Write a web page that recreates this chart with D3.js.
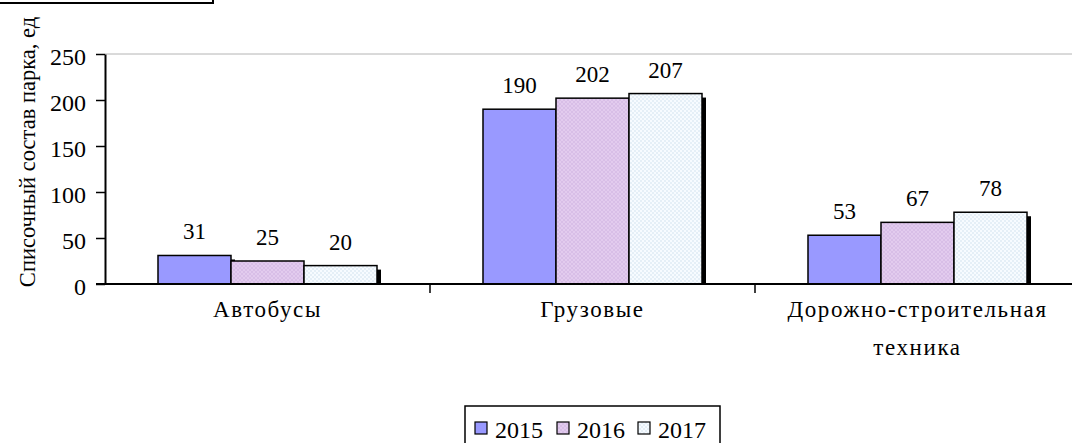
<!DOCTYPE html>
<html>
<head>
<meta charset="utf-8">
<script src="https://cdn.jsdelivr.net/npm/d3@7"></script>
</head>
<body style="margin:0; background:#fff">
<div id="main"></div>
<script>
let categories = ["Автобусы", "Грузовые", "Дорожно-строительная техника"];
let years = ["2015", "2016", "2017"];
let values2015 = [31, 190, 53];
let values2016 = [25, 202, 67];
let values2017 = [20, 207, 78];
let yTicks = [0, 50, 100, 150, 200, 250];

let series = [values2015, values2016, values2017];
let fills = ["#9999ff", "url(#p2016)", "url(#p2017)"];
let serif = '"Liberation Serif"';

let width = 1072, height = 443;
let plotLeft = 105, plotRight = 1080, plotTop = 54, plotBottom = 284;

let svg = d3.select("#main")
    .append("svg")
    .attr("width", width)
    .attr("height", height)
    .style("font-family", serif);

// patterns for 2016 and 2017
let defs = svg.append("defs");
let p1 = defs.append("pattern").attr("id", "p2016")
    .attr("patternUnits", "userSpaceOnUse").attr("width", 4).attr("height", 4);
p1.append("rect").attr("width", 4).attr("height", 4).attr("fill", "#e2cbee");
p1.append("path").attr("d", "M0,0L4,4M4,0L0,4").attr("stroke", "#d2b5e2").attr("stroke-width", 0.6);
let p2 = defs.append("pattern").attr("id", "p2017")
    .attr("patternUnits", "userSpaceOnUse").attr("width", 4).attr("height", 4);
p2.append("rect").attr("width", 4).attr("height", 4).attr("fill", "#f7fbff");
p2.append("circle").attr("cx", 1).attr("cy", 1).attr("r", 0.7).attr("fill", "#c6dcea");
p2.append("circle").attr("cx", 3).attr("cy", 3).attr("r", 0.7).attr("fill", "#c6dcea");

// cut title box top-left
svg.append("rect").attr("x", -5).attr("y", -20).attr("width", 218).attr("height", 23)
    .attr("fill", "none").attr("stroke", "#000").attr("stroke-width", 2);

let x0 = d3.scaleBand().domain(categories).range([plotLeft, plotRight]).paddingInner(0).paddingOuter(0);
let x1 = d3.scaleBand().domain(years).range([0, x0.bandwidth()]).paddingInner(0).paddingOuter(0.726);
let y = d3.scaleLinear().domain([0, 250]).range([plotBottom, plotTop]);

// gridline at top
svg.append("line").attr("x1", plotLeft).attr("x2", width).attr("y1", y(250)).attr("y2", y(250))
    .attr("stroke", "#b4b4b4").attr("stroke-width", 1);

let g = svg.append("g");
let rows = [];
categories.forEach((c, i) => {
  years.forEach((yr, j) => rows.push({c: c, yr: yr, v: series[j][i], j: j}));
});

// shadows
g.selectAll("rect.sh").data(rows).enter().append("rect")
    .attr("class", "sh")
    .attr("x", d => x0(d.c) + x1(d.yr) + 4)
    .attr("y", d => y(d.v) + 4)
    .attr("width", x1.bandwidth())
    .attr("height", d => plotBottom - y(d.v) - 4)
    .attr("fill", "#000");

g.selectAll("rect.bar").data(rows).enter().append("rect")
    .attr("class", "bar")
    .attr("x", d => x0(d.c) + x1(d.yr))
    .attr("y", d => y(d.v))
    .attr("width", x1.bandwidth())
    .attr("height", d => plotBottom - y(d.v))
    .attr("fill", d => fills[d.j])
    .attr("stroke", "#000").attr("stroke-width", 1.5);

g.selectAll("text.val").data(rows).enter().append("text")
    .attr("class", "val")
    .attr("x", d => x0(d.c) + x1(d.yr) + x1.bandwidth() / 2)
    .attr("y", d => y(d.v) - 16)
    .attr("text-anchor", "middle")
    .style("font-family", serif)
    .style("font-size", "23px")
    .text(d => d.v);

// y axis
let yAxis = svg.append("g").attr("transform", `translate(${plotLeft},0)`)
    .call(d3.axisLeft(y).tickValues(yTicks).tickSize(9).tickPadding(10).tickSizeOuter(0));
yAxis.select(".domain").attr("stroke", "#000").attr("stroke-width", 2);
yAxis.selectAll(".tick line").attr("stroke", "#000").attr("stroke-width", 1.5);
yAxis.selectAll(".tick text")
    .attr("fill", "#000")
    .attr("dy", "0.45em")
    .style("font-family", serif)
    .style("font-size", "24px");

// x axis
let xAxis = svg.append("g").attr("transform", `translate(0,${plotBottom})`);
xAxis.append("line").attr("x1", plotLeft - 9).attr("x2", width).attr("stroke", "#000").attr("stroke-width", 2);
xAxis.selectAll("line.tk").data(categories.slice(1)).enter().append("line")
    .attr("class", "tk")
    .attr("x1", d => x0(d)).attr("x2", d => x0(d))
    .attr("y1", 0).attr("y2", 9)
    .attr("stroke", "#000").attr("stroke-width", 1.5);

let catLabels = [["Автобусы"], ["Грузовые"], ["Дорожно-строительная", "техника"]];
categories.forEach((c, i) => {
  let t = svg.append("text")
      .attr("x", x0(c) + x0.bandwidth() / 2)
      .attr("y", 317)
      .attr("text-anchor", "middle")
      .style("font-family", serif)
      .style("font-size", "23px")
      .style("letter-spacing", "1.6px");
  catLabels[i].forEach((line, k) => {
    t.append("tspan").attr("x", x0(c) + x0.bandwidth() / 2).attr("dy", k === 0 ? 0 : 38).text(line);
  });
});

// y label
svg.append("text")
    .attr("transform", "translate(35,152) rotate(-90)")
    .attr("text-anchor", "middle")
    .style("font-family", serif)
    .style("font-size", "22.5px")
    .text("Списочный состав парка, ед");

// legend
let lg = svg.append("g").attr("transform", "translate(465,406)");
lg.append("rect").attr("width", 255).attr("height", 45)
    .attr("fill", "#fff").attr("stroke", "#000").attr("stroke-width", 1.5);
let lx = [10, 92, 173];
years.forEach((yr, j) => {
  lg.append("rect").attr("x", lx[j]).attr("y", 16).attr("width", 12).attr("height", 12)
      .attr("fill", fills[j]).attr("stroke", "#000").attr("stroke-width", 1.2);
  lg.append("text").attr("x", lx[j] + 20).attr("y", 32)
      .style("font-family", serif)
      .style("font-size", "24px").text(yr);
});
</script>
</body>
</html>
